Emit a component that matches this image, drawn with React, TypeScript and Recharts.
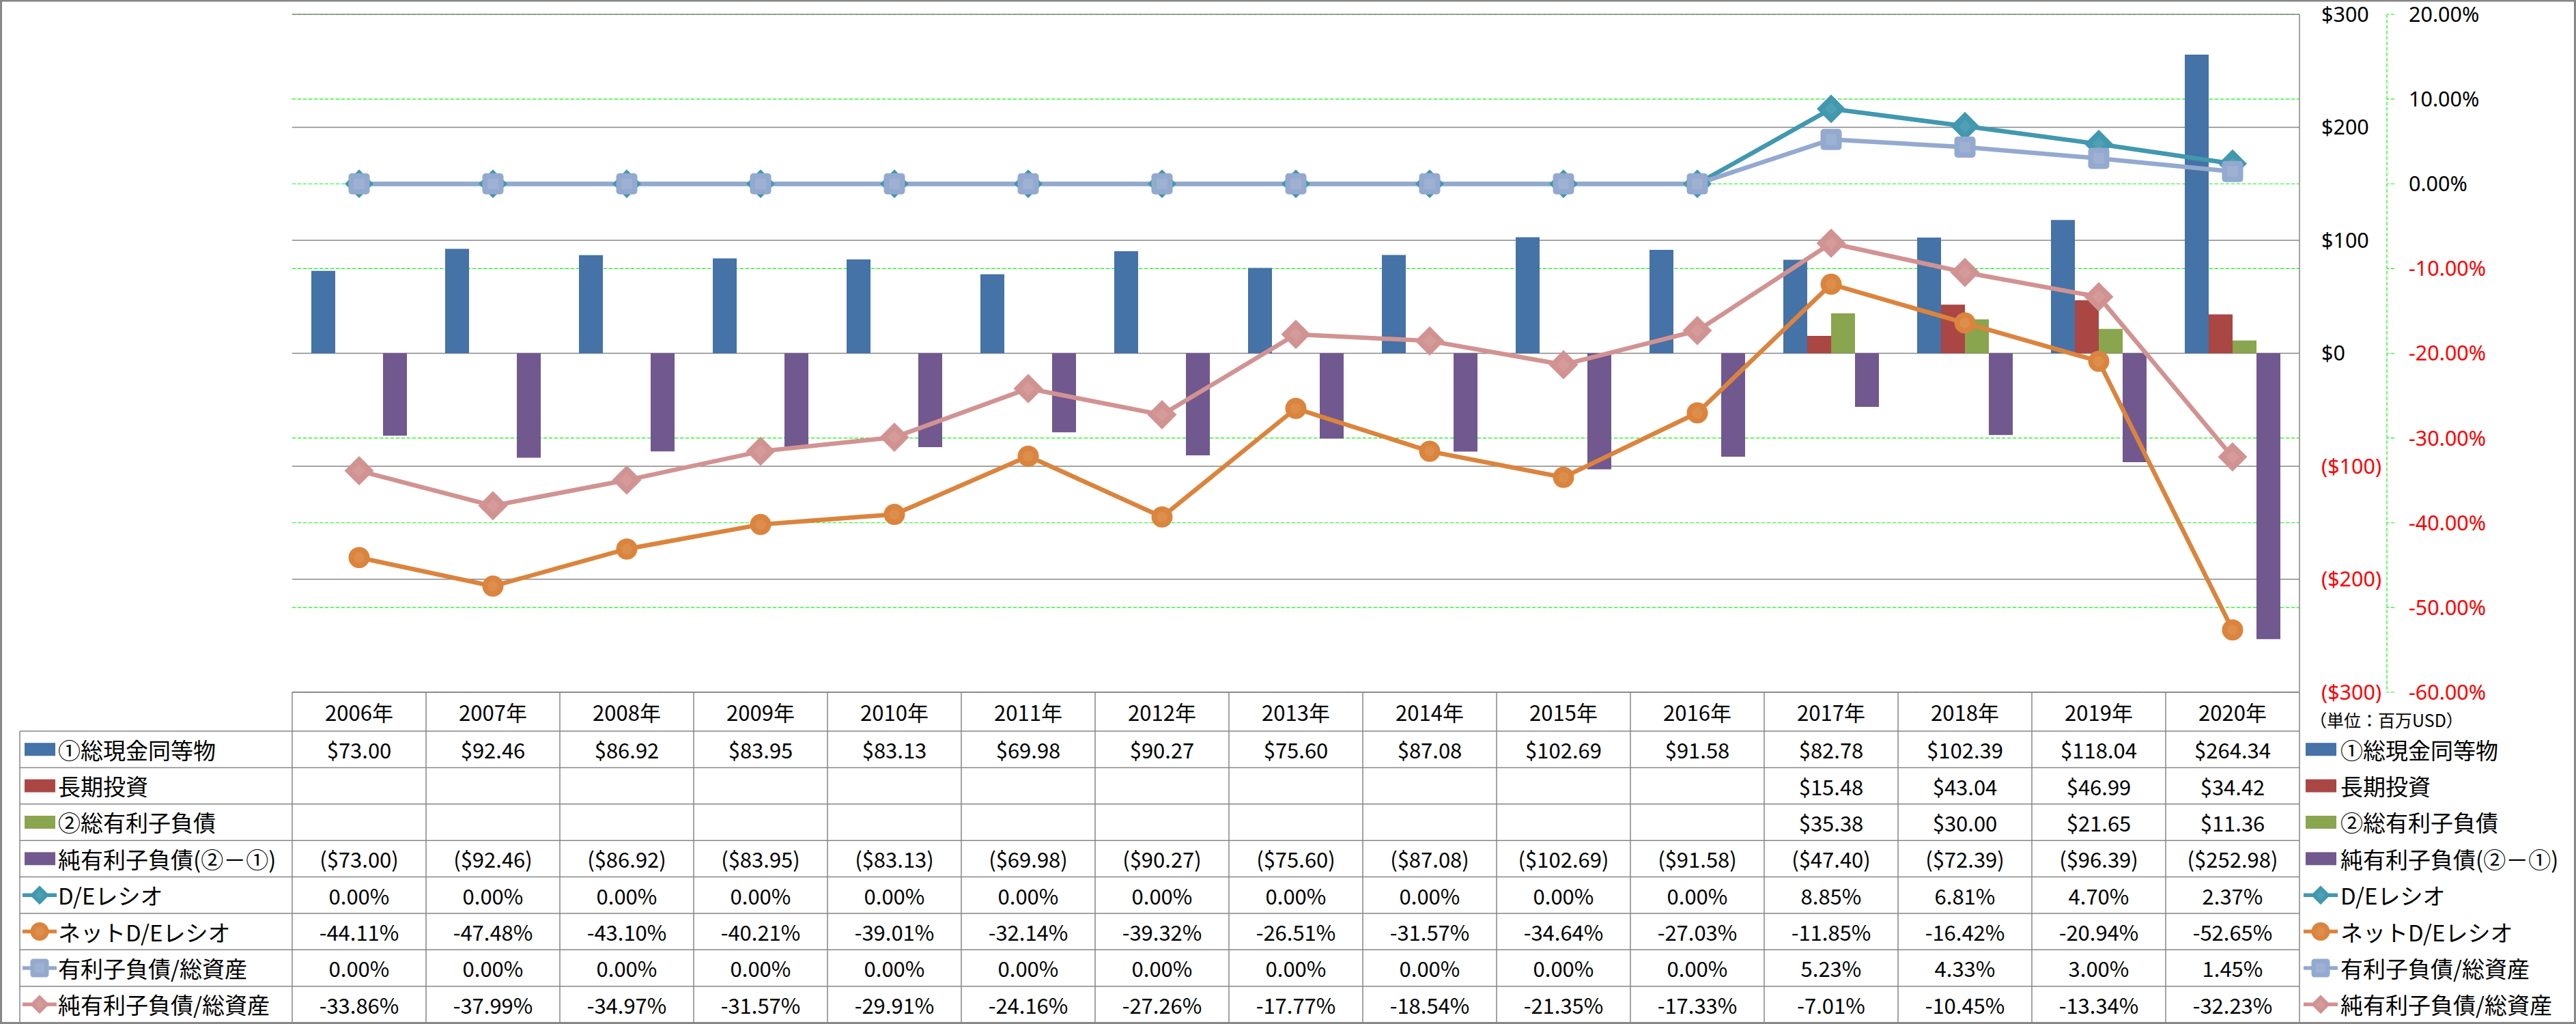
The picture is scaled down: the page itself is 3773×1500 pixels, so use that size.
import React from 'react';
import { ComposedChart, Bar, Line, XAxis, YAxis, CartesianGrid } from 'recharts';

// ---- data (単位：百万USD / %) ----
const years = ['2006年', '2007年', '2008年', '2009年', '2010年', '2011年', '2012年', '2013年', '2014年', '2015年', '2016年', '2017年', '2018年', '2019年', '2020年'];
const cashEquivalents = [73.0, 92.46, 86.92, 83.95, 83.13, 69.98, 90.27, 75.6, 87.08, 102.69, 91.58, 82.78, 102.39, 118.04, 264.34];
const longTermInvestments = [null, null, null, null, null, null, null, null, null, null, null, 15.48, 43.04, 46.99, 34.42];
const totalInterestDebt = [null, null, null, null, null, null, null, null, null, null, null, 35.38, 30.0, 21.65, 11.36];
const netInterestDebt = [-73.0, -92.46, -86.92, -83.95, -83.13, -69.98, -90.27, -75.6, -87.08, -102.69, -91.58, -47.4, -72.39, -96.39, -252.98];
const deRatio = [0, 0, 0, 0, 0, 0, 0, 0, 0, 0, 0, 8.85, 6.81, 4.7, 2.37];
const netDeRatio = [-44.11, -47.48, -43.1, -40.21, -39.01, -32.14, -39.32, -26.51, -31.57, -34.64, -27.03, -11.85, -16.42, -20.94, -52.65];
const debtToAssets = [0, 0, 0, 0, 0, 0, 0, 0, 0, 0, 0, 5.23, 4.33, 3.0, 1.45];
const netDebtToAssets = [-33.86, -37.99, -34.97, -31.57, -29.91, -24.16, -27.26, -17.77, -18.54, -21.35, -17.33, -7.01, -10.45, -13.34, -32.23];

const usdTicks = [-300, -200, -100, 0, 100, 200, 300];
const pctTicks = [-60, -50, -40, -30, -20, -10, 0, 10, 20];
const unitLabel = '（単位：百万USD）';

type Shape = 'diamond' | 'circle' | 'square';
interface SeriesDef {
  key: string;
  name: string;
  color: string;
  kind: 'bar' | 'line';
  shape?: Shape;
  size?: number;
  values: (number | null)[];
}

const series: SeriesDef[] = [
  { key: 'cash', name: '①総現金同等物', color: '#4572A7', kind: 'bar', values: cashEquivalents },
  { key: 'lti', name: '長期投資', color: '#AA4643', kind: 'bar', values: longTermInvestments },
  { key: 'debt', name: '②総有利子負債', color: '#89A54E', kind: 'bar', values: totalInterestDebt },
  { key: 'netDebt', name: '純有利子負債(②－①)', color: '#71588F', kind: 'bar', values: netInterestDebt },
  { key: 'de', name: 'D/Eレシオ', color: '#4198AF', kind: 'line', shape: 'diamond', size: 42, values: deRatio },
  { key: 'netDe', name: 'ネットD/Eレシオ', color: '#DB843D', kind: 'line', shape: 'circle', size: 31, values: netDeRatio },
  { key: 'debtAssets', name: '有利子負債/総資産', color: '#93A9CF', kind: 'line', shape: 'square', size: 31, values: debtToAssets },
  { key: 'netDebtAssets', name: '純有利子負債/総資産', color: '#D19392', kind: 'line', shape: 'diamond', size: 43, values: netDebtToAssets },
];

const chartData = years.map((year, i) => {
  const row: Record<string, string | number | null> = { year };
  series.forEach((s) => {
    row[s.key] = s.values[i];
  });
  return row;
});

// ---- layout ----
const W = 3773;
const H = 1500;
const PLOT_LEFT = 428;
const PLOT_TOP = 21;
const PLOT_BOTTOM = 1014;
const COL_W = 196;
const PLOT_RIGHT = PLOT_LEFT + COL_W * years.length;
const USD_AXIS_W = 128;
const PCT_AXIS_W = W - PLOT_RIGHT - USD_AXIS_W;
const TABLE_LEFT = 29;
const HEADER_BOTTOM = 1071;
const TABLE_BOTTOM = 1498;
const ROW_H = (TABLE_BOTTOM - HEADER_BOTTOM) / series.length;
const GRID_GRAY = '#868686';
const GREEN = '#00FF00';
const TABLE_FONT = '"Noto Sans CJK JP", "Noto Sans", sans-serif';
const AXIS_FONT = '"Noto Sans", "DejaVu Sans", sans-serif';
const AXIS_FS = 30.5;

const usdFmt = (v: number) => (v < 0 ? `($${Math.abs(v).toFixed(2)})` : `$${v.toFixed(2)}`);
const pctFmt = (v: number) => `${v.toFixed(2)}%`;

const MarkerShape = ({ shape, cx, cy, color, size }: { shape: Shape; cx: number; cy: number; color: string; size: number }) => {
  const h = size / 2;
  if (shape === 'diamond') {
    return (
      <g>
        <polygon points={`${cx},${cy - h} ${cx + h},${cy} ${cx},${cy + h} ${cx - h},${cy}`} fill={color} />
        <polygon points={`${cx},${cy - h * 0.45} ${cx + h * 0.45},${cy} ${cx},${cy + h * 0.45} ${cx - h * 0.45},${cy}`} fill="#fff" fillOpacity={0.08} />
      </g>
    );
  }
  if (shape === 'circle') {
    return (
      <g>
        <circle cx={cx} cy={cy} r={h} fill={color} />
        <circle cx={cx} cy={cy} r={h * 0.5} fill="#fff" fillOpacity={0.08} />
      </g>
    );
  }
  return (
    <g>
      <rect x={cx - h} y={cy - h} width={size} height={size} rx={size * 0.16} fill={color} />
      <rect x={cx - h * 0.5} y={cy - h * 0.5} width={h} height={h} fill="#fff" fillOpacity={0.1} />
    </g>
  );
};

const dotRenderer = (s: SeriesDef) => (p: any) => {
  if (p.cx == null || p.cy == null) return <g key={`${s.key}-e-${p.index}`} />;
  return <MarkerShape key={`${s.key}-${p.index}`} shape={s.shape as Shape} cx={p.cx} cy={p.cy} color={s.color} size={s.size as number} />;
};

const UsdTick = (p: any) => {
  const v = p.payload.value as number;
  const label = v < 0 ? `($${Math.abs(v)})` : `$${v}`;
  return (
    <text x={p.x} y={p.y} dy="0.36em" textAnchor="start" fontSize={AXIS_FS} fontFamily={AXIS_FONT} fill={v < 0 ? '#FF0000' : '#000'}>
      {label}
    </text>
  );
};

const PctTick = (p: any) => {
  const v = p.payload.value as number;
  return (
    <text x={p.x} y={p.y} dy="0.36em" textAnchor="start" fontSize={AXIS_FS} fontFamily={AXIS_FONT} fill={v < 0 ? '#FF0000' : '#000'}>
      {pctFmt(v)}
    </text>
  );
};

const LegendKey = ({ s, x, cy }: { s: SeriesDef; x: number; cy: number }) => {
  if (s.kind === 'bar') {
    return <rect x={x + 3} y={cy - 9.5} width={45} height={19} fill={s.color} />;
  }
  const cx = x + 25;
  return (
    <g>
      <line x1={x} x2={x + 50} y1={cy} y2={cy} stroke={s.color} strokeWidth={5.5} />
      <MarkerShape shape={s.shape as Shape} cx={cx} cy={cy} color={s.color} size={s.shape === 'diamond' ? 28 : 27} />
    </g>
  );
};

const DataTable = () => {
  const rowCenter = (r: number) => HEADER_BOTTOM + (r + 0.5) * ROW_H;
  const colCenter = (i: number) => PLOT_LEFT + (i + 0.5) * COL_W;
  return (
    <svg width={W} height={H} style={{ position: 'absolute', left: 0, top: 0, pointerEvents: 'none' }}>
      {/* grid of the data table */}
      <line x1={PLOT_LEFT} x2={PLOT_RIGHT} y1={PLOT_BOTTOM} y2={PLOT_BOTTOM} stroke={GRID_GRAY} strokeWidth={1.5} />
      {series.map((_, r) => (
        <line key={`h${r}`} x1={TABLE_LEFT} x2={PLOT_RIGHT} y1={HEADER_BOTTOM + r * ROW_H} y2={HEADER_BOTTOM + r * ROW_H} stroke={GRID_GRAY} strokeWidth={1.5} />
      ))}
      {years.concat(['']).map((_, i) => (
        <line key={`v${i}`} x1={PLOT_LEFT + i * COL_W} x2={PLOT_LEFT + i * COL_W} y1={PLOT_BOTTOM} y2={TABLE_BOTTOM} stroke={GRID_GRAY} strokeWidth={1.5} />
      ))}
      <line x1={TABLE_LEFT} x2={TABLE_LEFT} y1={HEADER_BOTTOM} y2={TABLE_BOTTOM} stroke={GRID_GRAY} strokeWidth={1.5} />

      {/* header */}
      {years.map((y, i) => (
        <text key={y} x={colCenter(i)} y={(PLOT_BOTTOM + HEADER_BOTTOM) / 2} dominantBaseline="central" textAnchor="middle" fontSize={31} fontFamily={TABLE_FONT} fill="#000">
          {y}
        </text>
      ))}
      <text x={3383} y={1054} dominantBaseline="central" fontSize={25} fontFamily={TABLE_FONT} fill="#000">
        {unitLabel}
      </text>

      {/* rows */}
      {series.map((s, r) => (
        <g key={s.key}>
          <LegendKey s={s} x={33} cy={rowCenter(r)} />
          <text x={85} y={rowCenter(r)} dominantBaseline="central" fontSize={33} fontFamily={TABLE_FONT} fill="#000">
            {s.name}
          </text>
          {s.values.map((v, i) =>
            v == null ? null : (
              <text key={i} x={colCenter(i)} y={rowCenter(r)} dominantBaseline="central" textAnchor="middle" fontSize={31} fontFamily={TABLE_FONT} fill="#000">
                {s.kind === 'bar' ? usdFmt(v) : pctFmt(v)}
              </text>
            )
          )}
          <LegendKey s={s} x={3374} cy={rowCenter(r)} />
          <text x={3428} y={rowCenter(r)} dominantBaseline="central" fontSize={33} fontFamily={TABLE_FONT} fill="#000">
            {s.name}
          </text>
        </g>
      ))}

      {/* outer frame */}
      <rect x={1.5} y={1} width={W - 3} height={H - 2.5} fill="none" stroke="#878787" strokeWidth={3} />
    </svg>
  );
};

const App: React.FC = () => {
  return (
    <div style={{ position: 'absolute', left: 0, top: 0, width: W, height: H, background: '#fff' }}>
      <ComposedChart
        width={W}
        height={H}
        data={chartData}
        margin={{ top: PLOT_TOP, right: 0, bottom: H - PLOT_BOTTOM, left: PLOT_LEFT }}
        barCategoryGap={28}
        barGap={0}
      >
        <CartesianGrid yAxisId="axis2" vertical={false} stroke={GREEN} strokeWidth={1.2} strokeDasharray="5 3" />
        <CartesianGrid yAxisId="axis1" vertical={false} stroke={GRID_GRAY} strokeWidth={1.5} />
        <XAxis dataKey="year" hide />
        {/* percent axis (outer) */}
        <YAxis
          yAxisId="axis2"
          orientation="right"
          domain={[-60, 20]}
          ticks={pctTicks}
          allowDataOverflow
          width={PCT_AXIS_W}
          axisLine={{ stroke: GREEN, strokeWidth: 1.2, strokeDasharray: '5 3' }}
          tickLine={{ stroke: GREEN, strokeWidth: 1.2, strokeDasharray: '5 3' }}
          tickSize={11}
          tickMargin={21}
          tick={PctTick}
          interval={0}
        />
        {/* USD axis (next to plot) */}
        <YAxis
          yAxisId="axis1"
          orientation="right"
          domain={[-300, 300]}
          ticks={usdTicks}
          allowDataOverflow
          width={USD_AXIS_W}
          axisLine={{ stroke: GRID_GRAY, strokeWidth: 1.5 }}
          tickLine={false}
          tickSize={0}
          tickMargin={32}
          tick={UsdTick}
          interval={0}
        />
        {series
          .filter((s) => s.kind === 'bar')
          .map((s) => (
            <Bar key={s.key} yAxisId="axis1" dataKey={s.key} name={s.name} fill={s.color} isAnimationActive={false} />
          ))}
        {series
          .filter((s) => s.kind === 'line')
          .map((s) => (
            <Line
              key={s.key}
              yAxisId="axis2"
              type="linear"
              dataKey={s.key}
              name={s.name}
              stroke={s.color}
              strokeWidth={6.5}
              dot={dotRenderer(s)}
              activeDot={false}
              isAnimationActive={false}
            />
          ))}
      </ComposedChart>
      <DataTable />
    </div>
  );
};

export default App;
